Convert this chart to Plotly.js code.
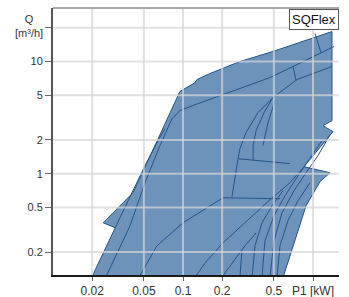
<!DOCTYPE html>
<html>
<head>
<meta charset="utf-8">
<script src="https://cdn.plot.ly/plotly-3.0.1.min.js"></script>
<style>html,body{margin:0;padding:0;background:#fff;}#chart{width:349px;height:297px;}</style>
</head>
<body>
<div id="chart"></div>
<script>
// ---- data (P1 [kW] vs Q [m³/h]) ----
const xTicks = [0.02, 0.05, 0.1, 0.2, 0.5, 1];
const xTickText = ['0.02', '0.05', '0.1', '0.2', '0.5', 'P1 [kW]'];
const yTicks = [0.2, 0.5, 1, 2, 5, 10, 20];
const yTickText = ['0.2', '0.5', '1', '2', '5', '10', ''];

// outer envelope of the SQFlex range
const envP1 = [0.0199, 0.0301, 0.0243, 0.0412, 0.0484, 0.0946, 0.124, 0.128, 0.161, 0.274, 0.492, 1.40, 1.40, 1.194, 1.425, 1.215, 0.853, 1.351, 1.132, 0.884, 0.740, 0.597, 0.59];
const envQ  = [0.12, 0.330, 0.365, 0.676, 1.0, 5.40, 6.49, 6.91, 7.81, 10.0, 12.3, 18.5, 2.97, 2.68, 2.37, 1.89, 1.155, 1.02, 0.849, 0.518, 0.268, 0.123, 0.12];

// internal pump curves
const curveA_P1 = [0.0255, 0.0391, 0.0510, 0.0665, 0.0823, 0.0946, 0.119, 0.183, 0.274, 0.467, 0.702, 1.152, 1.45];
const curveA_Q  = [0.12, 0.343, 0.831, 1.78, 3.10, 3.65, 4.05, 4.87, 5.74, 7.19, 9.02, 12.0, 13.6];
const curveA2_P1 = [0.0301, 0.0412, 0.0510, 0.0642, 0.0726];
const curveA2_Q  = [0.330, 0.705, 1.18, 1.97, 2.52];
const curveM_P1 = [0.492, 0.753, 1.40];
const curveM_Q  = [4.77, 6.91, 9.02];
const stepM_P1 = [0.702, 0.740];
const stepM_Q  = [9.02, 6.77];
const topSeg_P1 = [1.036, 1.152];
const topSeg_Q  = [17.8, 12.0];
const curveB_P1 = [0.046, 0.0631, 0.1, 0.153, 0.203, 0.557];
const curveB_Q  = [0.12, 0.228, 0.365, 0.497, 0.610, 0.598];
const boxTop_P1 = [0.238, 0.265, 0.665];
const boxTop_Q  = [0.623, 1.36, 1.23];
const boxTick_P1 = [0.346, 0.346];
const boxTick_Q  = [1.78, 1.31];
const curveC1_P1 = [0.492, 0.377, 0.305, 0.274, 0.265];
const curveC1_Q  = [4.77, 3.50, 2.32, 1.67, 1.36];
const curveC2_P1 = [0.492, 0.420, 0.365, 0.346];
const curveC2_Q  = [4.77, 3.50, 2.42, 1.78];
const curveC3_P1 = [0.510, 0.451, 0.412];
const curveC3_Q  = [4.49, 2.85, 1.78];
const curveD_P1 = [0.124, 0.148, 0.203, 0.311, 0.467, 0.665, 0.853];
const curveD_Q  = [0.12, 0.160, 0.242, 0.381, 0.586, 0.831, 1.155];
const curveE1_P1 = [0.1995, 0.238, 0.300, 0.365];
const curveE1_Q  = [0.12, 0.160, 0.228, 0.297];
const curveE2_P1 = [0.274, 0.284];
const curveE2_Q  = [0.12, 0.205];
const curveE3_P1 = [0.340, 0.358, 0.405, 0.484, 0.588];
const curveE3_Q  = [0.12, 0.228, 0.365, 0.518, 0.705];
const curveE4_P1 = [0.405, 0.427, 0.501, 0.609, 0.767, 0.948, 1.173];
const curveE4_Q  = [0.12, 0.252, 0.422, 0.636, 0.96, 1.36, 1.97];
const curveE5_P1 = [0.467, 0.501, 0.578, 0.714, 0.884, 1.093, 1.351];
const curveE5_Q  = [0.12, 0.252, 0.449, 0.705, 1.02, 1.45, 2.23];
const curveE6_P1 = [0.529, 0.557, 0.642, 0.767, 0.948];
const curveE6_Q  = [0.12, 0.228, 0.381, 0.574, 0.831];

const curves = [
  [curveA_P1, curveA_Q], [curveA2_P1, curveA2_Q], [curveM_P1, curveM_Q], [stepM_P1, stepM_Q],
  [topSeg_P1, topSeg_Q], [curveB_P1, curveB_Q], [boxTop_P1, boxTop_Q], [boxTick_P1, boxTick_Q],
  [curveC1_P1, curveC1_Q], [curveC2_P1, curveC2_Q], [curveC3_P1, curveC3_Q], [curveD_P1, curveD_Q],
  [curveE1_P1, curveE1_Q], [curveE2_P1, curveE2_Q], [curveE3_P1, curveE3_Q], [curveE4_P1, curveE4_Q],
  [curveE5_P1, curveE5_Q], [curveE6_P1, curveE6_Q]
];

const fillCol = '#6d93bb';
const lineCol = '#24548a';
const gridCol = 'rgba(214,214,214,0.72)';

const traces = [];
traces.push({x: envP1, y: envQ, type: 'scatter', mode: 'lines', fill: 'toself',
  fillcolor: fillCol, line: {color: lineCol, width: 1}, hoverinfo: 'skip'});
curves.forEach(c => traces.push({x: c[0], y: c[1], type: 'scatter', mode: 'lines',
  line: {color: lineCol, width: 1}, hoverinfo: 'skip'}));
// grid lines drawn over the filled area
xTicks.forEach(v => traces.push({x: [v, v], y: [0.01, 1000], type: 'scatter', mode: 'lines',
  line: {color: gridCol, width: 2}, hoverinfo: 'skip'}));
yTicks.forEach(v => traces.push({x: [0.001, 100], y: [v, v], type: 'scatter', mode: 'lines',
  line: {color: gridCol, width: 2}, hoverinfo: 'skip'}));

const fam = 'Liberation Sans, Arial, sans-serif';
const font = {family: fam, size: 11, color: '#333'};
const xfont = {family: fam, size: 12, color: '#333'};

const layout = {
  width: 349, height: 297,
  margin: {l: 53, r: 10, t: 8, b: 22, pad: 0},
  paper_bgcolor: '#fff', plot_bgcolor: '#fff',
  showlegend: false, hovermode: false,
  font: font,
  xaxis: {type: 'log', range: [-2, 0.2], tickvals: xTicks, ticktext: xTickText,
    showgrid: false, zeroline: false, showline: true, linecolor: '#1a1a1a', linewidth: 2,
    ticks: 'outside', ticklen: 4, tickcolor: '#666', tickfont: xfont},
  yaxis: {type: 'log', range: [-0.903, 1.477], tickvals: yTicks, ticktext: yTickText,
    showgrid: false, zeroline: false, showline: true, linecolor: '#555', linewidth: 2,
    ticks: 'outside', ticklen: 6, tickcolor: '#666', tickfont: font},
  shapes: [
    {type: 'line', xref: 'paper', yref: 'paper', x0: 0, x1: 1, y0: 1, y1: 1,
     line: {color: '#a8a8a8', width: 2}}
  ],
  annotations: [
    {text: 'Q<br>[m³/h]', xref: 'paper', yref: 'paper', x: 0, y: 0.931, xanchor: 'right',
     yanchor: 'middle', xshift: -8, align: 'center', showarrow: false, font: font},
    {text: 'SQFlex', xref: 'paper', yref: 'paper', x: 1, y: 1, xanchor: 'right', yanchor: 'top',
     yshift: -1, showarrow: false, bgcolor: '#fff', bordercolor: '#555', borderwidth: 1, borderpad: 2,
     font: {family: fam, size: 13, color: '#111'}}
  ]
};

Plotly.newPlot('chart', traces, layout, {displayModeBar: false, staticPlot: true});
</script>
</body>
</html>
